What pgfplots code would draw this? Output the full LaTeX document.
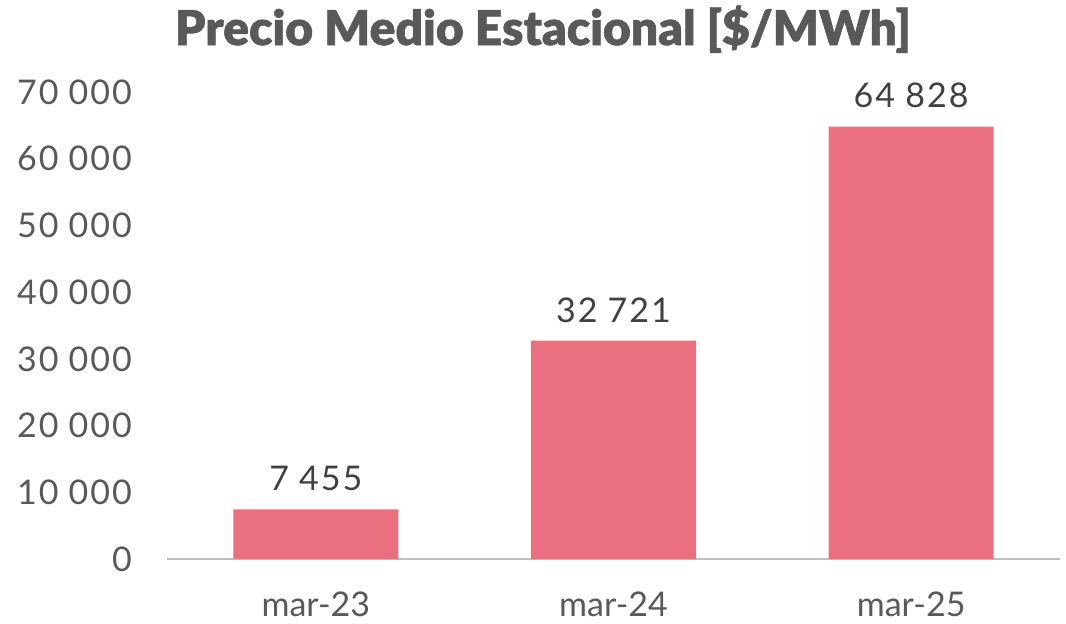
\documentclass[border=0pt]{standalone}
\usepackage{fontspec}
\setmainfont{Lato}
\newfontfamily\titlefont{Lato Black}[FakeBold=1.2]
\newfontfamily\numfont{Lato}[LetterSpace=6]
\usepackage{pgfplots}
\pgfplotsset{compat=1.18}
\definecolor{barc}{HTML}{EA707F}
\definecolor{txt}{HTML}{595959}
\definecolor{lbl}{HTML}{404040}
\definecolor{axc}{HTML}{BFBFBF}
\begin{document}
\begin{tikzpicture}
\begin{axis}[
  scale only axis,
  width=446.5pt, height=233.5pt,
  xmin=-0.5, xmax=2.5, ymin=0, ymax=70000,
  ytick={0,10000,...,70000},
  xtick=data, xticklabels={mar-23,mar-24,mar-25},
  axis lines*=left,
  y axis line style={draw=none},
  x axis line style={draw=axc, line width=1.3pt},
  major tick length=0pt,
  tick label style={font=\fontsize{17}{19}\selectfont, text=txt},
  yticklabel style={font=\numfont\fontsize{17}{19}\selectfont, xshift=-14pt},
  /pgf/number format/assume math mode=true,
  /pgf/number format/1000 sep={\hspace{0.3em}},
  scaled y ticks=false,
  xticklabel style={yshift=-13pt},
  ybar, bar width=82.5pt,
  nodes near coords,
  every node near coord/.append style={font=\numfont\fontsize{17}{19}\selectfont, text=lbl, anchor=south, inner sep=0pt, yshift=9pt, /pgf/number format/assume math mode=true, /pgf/number format/1000 sep={\hspace{0.3em}}},
  clip=false,
]
\addplot[fill=barc, draw=none] coordinates {(0,7455) (1,32721) (2,64828)};
\node[anchor=base, inner sep=0pt, text=txt, font=\titlefont\fontsize{24}{27}\selectfont, yshift=23.5pt] at (rel axis cs:0.421,1) {Precio Medio Estacional [\$/MWh]};
\end{axis}
\pgfresetboundingbox
\path[use as bounding box] (-83.5pt,-32pt) rectangle (449.5pt,279.5pt);
\end{tikzpicture}
\end{document}
